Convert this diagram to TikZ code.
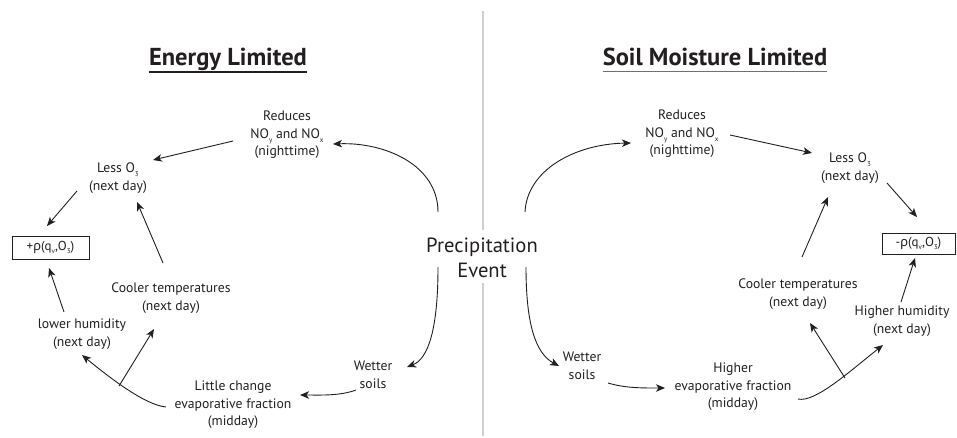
\documentclass[tikz,border=0pt]{standalone}
\usepackage{fontspec}
\setmainfont{PT Sans}
\newfontfamily\grkfont{Noto Sans}
\usetikzlibrary{arrows.meta,calc}
\definecolor{ink}{HTML}{231F20}
\definecolor{divider}{HTML}{CFCFCF}
\definecolor{ulgray}{HTML}{707070}
\newcommand{\lowsub}[1]{\raisebox{-0.55ex}{\fontsize{7}{7}\selectfont #1}}
\newcommand{\rhochar}{{\grkfont ρ}}
\begin{document}
\begin{tikzpicture}[x=1pt,y=-1pt,
  txt/.style={text=ink,align=center,inner sep=0pt,font=\fontsize{13.7}{17.5}\selectfont},
  ttl/.style={text=ink,inner xsep=0pt,inner ysep=0pt,anchor=base,font=\bfseries\fontsize{24.5}{26}\selectfont},
  bigtxt/.style={text=ink,align=center,inner sep=0pt,font=\fontsize{20.6}{25}\selectfont},
  boxnode/.style={draw=ink,line width=0.9pt,text=ink,inner sep=0pt,font=\fontsize{13}{14}\selectfont},
  arr/.style={draw=ink,line width=0.9pt,-{Stealth[length=9pt,width=7.5pt,inset=2.5pt]}},
  ln/.style={draw=ink,line width=0.9pt}]
\useasboundingbox (0,0) rectangle (957,437);

% divider
\coordinate (dtop) at (483,11);
\coordinate (dgap1) at (483,230);
\coordinate (dgap2) at (483,283);
\coordinate (dbot) at (483,436);
\draw[divider,line width=1.1pt] (dtop) -- (dgap1);
\draw[divider,line width=1.1pt] (dgap2) -- (dbot);

% titles
\node[ttl] (titleL) at (228,65) {Energy Limited};
\node[ttl] (titleR) at (715,65) {Soil Moisture Limited};
\draw[ink,line width=1.3pt] ($(titleL.base west)+(0,7)$) -- ($(titleL.base east)+(0,7)$);
\draw[ulgray,line width=1.6pt] ($(titleR.base west)+(0,6.5)$) -- ($(titleR.base east)+(0,6.5)$);

% center
\node[bigtxt] (precip) at (482,258) {Precipitation\\Event};

% left side
\node[txt] (redL) at (287,135) {Reduces\\NO\lowsub{y} and NO\lowsub{x}\\(nighttime)};
\node[txt] (lessL) at (118,178) {Less O\lowsub{3}\\(next day)};
\node[boxnode,minimum width=77pt,minimum height=23pt] (boxL) at (50.5,247.5) {+\rhochar(q\lowsub{v},O\lowsub{3})};
\node[txt] (coolL) at (171,298) {Cooler temperatures\\(next day)};
\node[txt] (lowL) at (82,334) {lower humidity\\(next day)};
\node[txt] (littleL) at (233,405) {Little change\\evaporative fraction\\(midday)};
\node[txt] (wetL) at (373,375) {Wetter\\soils};

% right side
\node[txt] (redR) at (682,134) {Reduces\\NO\lowsub{y} and NO\lowsub{x}\\(nighttime)};
\node[txt] (lessR) at (850,168) {Less O\lowsub{3}\\(next day)};
\node[boxnode,minimum width=73pt,minimum height=21pt] (boxR) at (918.5,243.5) {-\rhochar(q\lowsub{v},O\lowsub{3})};
\node[txt] (coolR) at (798,294) {Cooler temperatures\\(next day)};
\node[txt] (highR) at (902,321) {Higher humidity\\(next day)};
\node[txt] (higherR) at (733,387) {Higher\\evaporative fraction\\(midday)};
\node[txt] (wetR) at (582,366) {Wetter\\soils};

% left connectors
\draw[arr] ($(precip)+(-44,-46)$) .. controls ($(precip)+(-44,-93)$) and ($(redL)+(98,7)$) .. ($(redL)+(46,9)$);
\draw[arr] ($(redL)+(-54,6)$) -- ($(lessL)+(35,-18)$);
\draw[arr] ($(lessL)+(-41,13)$) -- ($(boxL)+(-3.5,-21.5)$);
\draw[arr] ($(lowL)+(-18,-22)$) -- ($(boxL)+(-1.5,20.5)$);
\draw[arr] ($(coolL)+(-8,-35)$) -- ($(lessL)+(19,24)$);
\coordinate (brL) at (119,386);
\draw[arr] ($(littleL)+(-67,2)$) .. controls ($(littleL)+(-88,0)$) and ($(lowL)+(28,44)$) .. ($(lowL)+(0,21)$);
\draw[arr] (brL) -- ($(coolL)+(-17,31)$);
\draw[arr] ($(wetL)+(-17,15)$) .. controls ($(wetL)+(-33,21)$) and ($(littleL)+(87,-10)$) .. ($(littleL)+(67,-10)$);
\draw[arr] ($(precip)+(-44,9)$) .. controls ($(precip)+(-44,72)$) and ($(wetL)+(55,-16)$) .. ($(wetL)+(34,-8)$);

% right connectors
\draw[arr] ($(precip)+(43,-46)$) .. controls ($(precip)+(45,-88)$) and ($(redR)+(-107,10)$) .. ($(redR)+(-51,9)$);
\draw[arr] ($(redR)+(48,1)$) -- ($(lessR)+(-38,-15)$);
\draw[arr] ($(lessR)+(37,15)$) -- ($(boxR)+(-1.5,-26.5)$);
\draw[arr] ($(coolR)+(4,-37)$) -- ($(lessR)+(-22,29)$);
\draw[arr] ($(highR)+(-1,-19)$) -- ($(boxR)+(-3.5,14.5)$);
\draw[arr] ($(precip)+(44,9)$) .. controls ($(precip)+(44,65)$) and ($(wetR)+(-47,-13)$) .. ($(wetR)+(-23,0)$);
\draw[arr] ($(wetR)+(26,17)$) .. controls ($(wetR)+(43,22)$) and ($(higherR)+(-93,1)$) .. ($(higherR)+(-68,1)$);
\coordinate (brR) at (845,378);
\draw[arr] ($(higherR)+(65,12)$) .. controls ($(higherR)+(82,16)$) and ($(highR)+(-52,50)$) .. ($(highR)+(-19,24)$);
\draw[arr] (brR) -- ($(coolR)+(12,29)$);
\end{tikzpicture}
\end{document}
